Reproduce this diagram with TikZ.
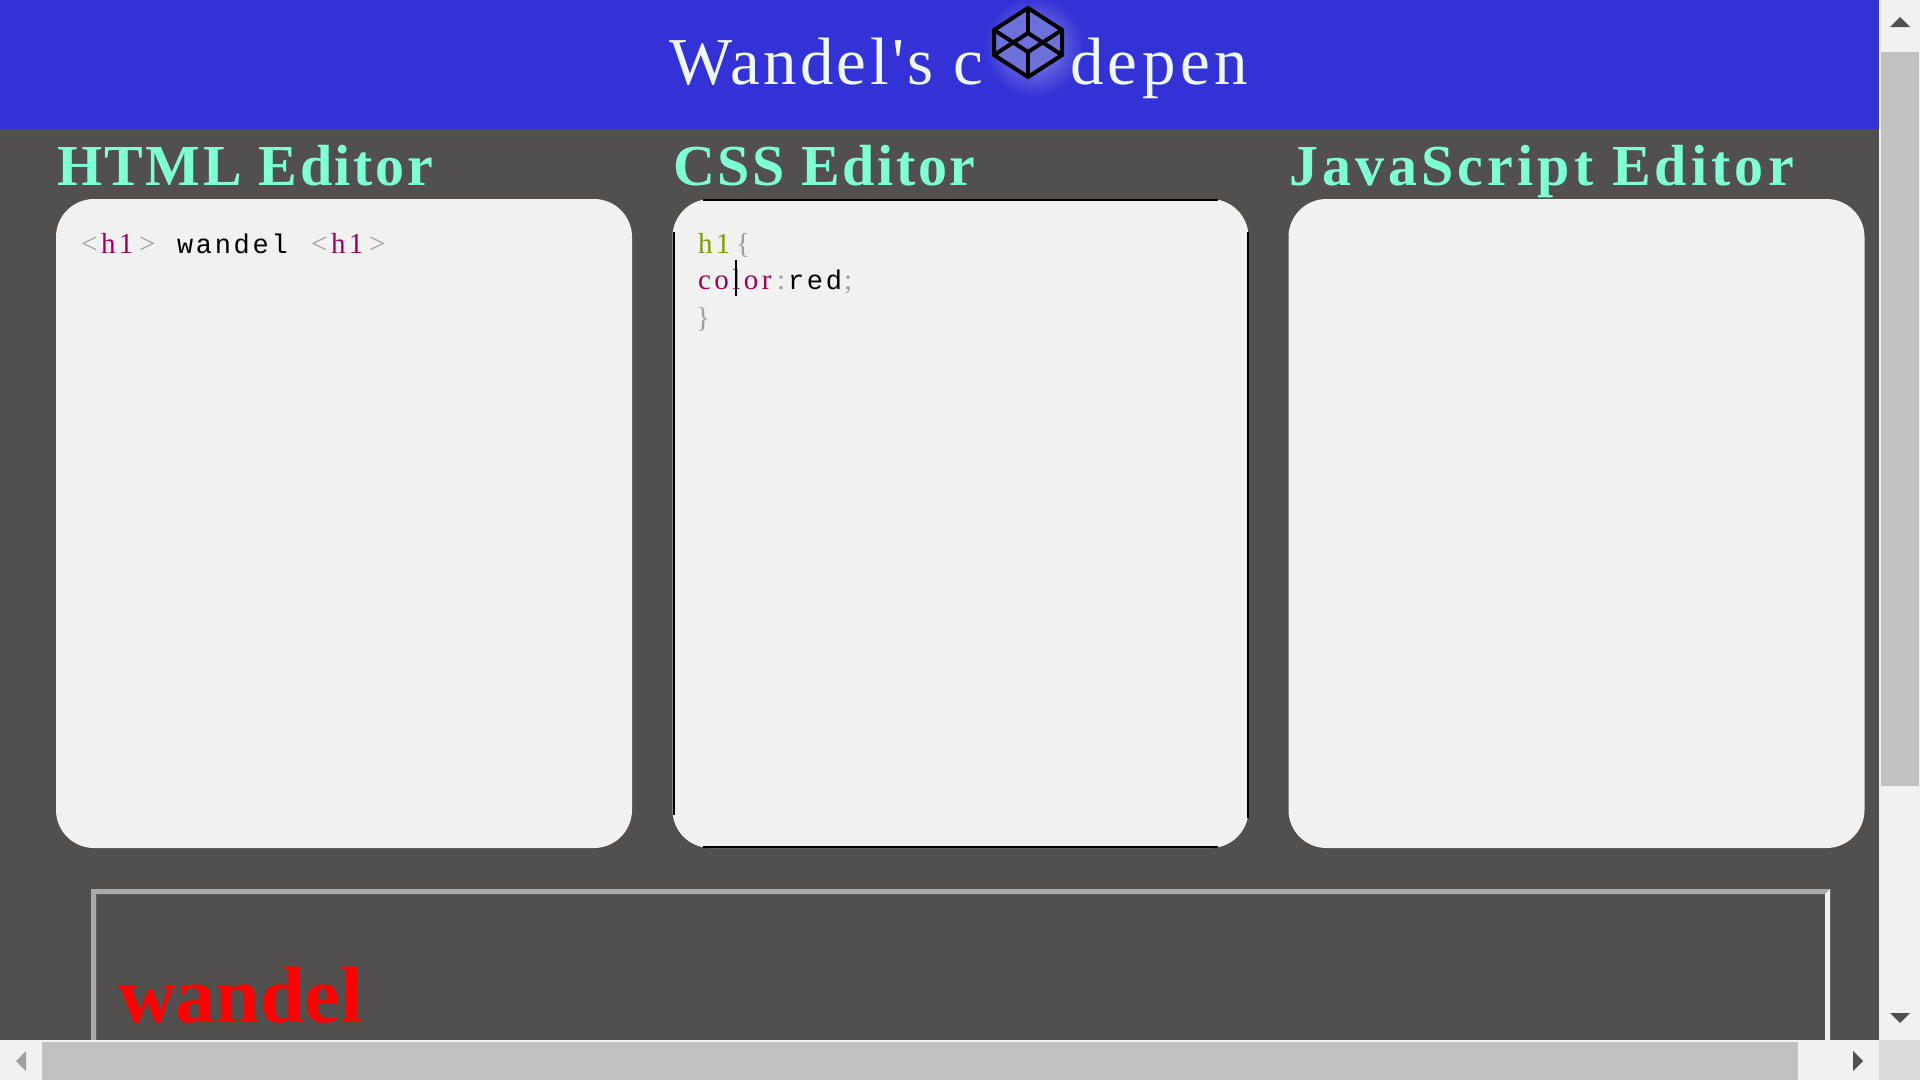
\documentclass[tikz,border=0pt]{standalone}
\usepackage{fontspec}
\newfontfamily\titlefont[LetterSpace=5]{Liberation Serif}
\newfontfamily\headfont[LetterSpace=4.4,BoldFont={Liberation Serif Bold}]{Liberation Serif}
\newfontfamily\codeserif[LetterSpace=12]{Liberation Serif}
\newfontfamily\codemono[LetterSpace=10]{Liberation Mono}
\newfontfamily\outfont{Liberation Serif}
\definecolor{pagebg}{HTML}{51504E}
\definecolor{headbg}{HTML}{3232D6}
\definecolor{panelbg}{HTML}{F1F1F1}
\definecolor{aqua}{HTML}{7FFFD4}
\definecolor{titlecol}{HTML}{F0F8FF}
\definecolor{tagcol}{HTML}{A0005A}
\definecolor{greycol}{HTML}{A0A0A0}
\definecolor{selcol}{HTML}{77A000}
\definecolor{thumbcol}{HTML}{C1C1C1}
\definecolor{arrowcol}{HTML}{505050}
\definecolor{logofill}{HTML}{6D71DA}
\tikzset{
    panel/.style={fill=panelbg,rounded corners=38pt,minimum width=576pt,minimum height=649pt,inner sep=0pt,outer sep=0pt},
    txt/.style={anchor=base west,inner sep=0pt,outer sep=0pt},
    title/.style={txt,text=titlecol,font=\titlefont\fontsize{67}{70}\selectfont},
    head/.style={txt,text=aqua,font=\headfont\bfseries\fontsize{58}{60}\selectfont},
    serif/.style={txt,font=\codeserif\fontsize{29}{30}\selectfont},
    mono/.style={txt,font=\codemono\fontsize{27}{30}\selectfont},
    logoline/.style={line width=4pt,line join=miter},
}
\begin{document}
\begin{tikzpicture}[x=1pt,y=-1pt]
    \useasboundingbox (0,0) rectangle (1920,1080);
    \fill[pagebg] (0,0) rectangle (1920,1080);
    \fill[headbg] (0,0) rectangle (1879,129);
    \shade[inner color=white!45!headbg,outer color=headbg] (1034,47) circle (50);
    \draw[logoline,fill=logofill] (1028,8)--(1062,30)--(1062,55)--(1028,77)--(994,55)--(994,30)--cycle;
    \draw[logoline] (1028,8)--(1028,33);
    \draw[logoline] (1028,77)--(1028,52);
    \draw[logoline] (994,30)--(1028,52)--(1062,30);
    \draw[logoline] (994,55)--(1028,33)--(1062,55);
    \node[title] (titleleft) at (669,84) {Wandel's c};
    \node[title] (titleright) at (1070,84) {\addfontfeature{LetterSpace=6.7}depen};
    \node[head] (htmlhead) at (57,185) {HTML Editor};
    \node[head] (csshead) at (673,185) {CSS Editor};
    \node[head] (jshead) at (1289,185) {\addfontfeature{LetterSpace=7.1}JavaScript Editor};
    \node[panel] (htmlbox) at (344,523.5) {};
    \node[panel] (cssbox) at (960.5,523.5) {};
    \node[panel] (jsbox) at (1576.5,523.5) {};
    \draw[line width=2pt] (703,200)--(1218,200);
    \draw[line width=2pt] (703,847)--(1218,847);
    \draw[line width=2pt] (674,232)--(674,815);
    \draw[line width=2pt] (1247.5,232)--(1247.5,818);
    \node[serif,text=greycol] (lt1) at (81,253) {<};
    \node[serif,text=tagcol] (tag1) at (101,253) {h1};
    \node[serif,text=greycol] (gt1) at (139,253) {>};
    \node[mono] (word) at (177,253) {wandel};
    \node[serif,text=greycol] (lt2) at (311,253) {<};
    \node[serif,text=tagcol] (tag2) at (331,253) {h1};
    \node[serif,text=greycol] (gt2) at (369,253) {>};
    \node[serif,text=selcol] (sel) at (698,253) {h1};
    \node[serif,text=greycol] (open) at (736,253) {\{};
    \node[serif,text=tagcol] (prop) at (698,289) {color};
    \node[serif,text=greycol] (colon) at (777,289) {:};
    \node[mono] (value) at (788,289) {red};
    \node[serif,text=greycol] (semi) at (844,289) {;};
    \node[serif,text=greycol] (close) at (696,327) {\}};
    \draw[line width=2pt] (736,260)--(736,296);
    \fill[greycol!90!white] (91,889)--(1830,889)--(1825,894)--(96,894)--(96,1040)--(91,1040)--cycle;
    \fill[panelbg] (1830,889)--(1830,1040)--(1825,1040)--(1825,894)--cycle;
    \node[txt,text=red,font=\outfont\bfseries\fontsize{80}{84}\selectfont] (output) at (118,1022) {wandel};
    \fill[panelbg] (1879,0) rectangle (1920,1040);
    \fill[thumbcol] (1881,52) rectangle (1919,786);
    \fill[arrowcol] (1900,17)--(1910,27)--(1890,27)--cycle;
    \fill[arrowcol] (1900,1023)--(1910,1013)--(1890,1013)--cycle;
    \fill[panelbg] (0,1040) rectangle (1879,1080);
    \fill[thumbcol] (42,1042) rectangle (1798,1080);
    \fill[greycol] (16,1061)--(26,1051)--(26,1071)--cycle;
    \fill[arrowcol] (1863,1061)--(1853,1051)--(1853,1071)--cycle;
    \fill[white!86!black] (1879,1040) rectangle (1920,1080);
\end{tikzpicture}
\end{document}
